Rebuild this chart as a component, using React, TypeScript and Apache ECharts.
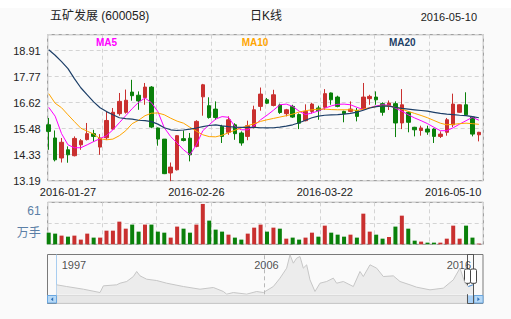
import React, { useEffect, useRef } from 'react';
import * as echarts from 'echarts';

// ---------- data ----------
const stockTitle = '五矿发展 (600058)';
const periodTitle = '日K线';
const currentDate = '2016-05-10';

// y tick labels of the price panel (bottom to top)
const priceTicks = ['13.19', '14.33', '15.48', '16.62', '17.77', '18.91'];
const priceMin = 13.19;
const priceStep = 1.144;

// x tick labels (candle index -> text)
const dateTickIndex = [3, 23, 43, 63];
const dateTickText = ['2016-01-27', '2016-02-26', '2016-03-22', '2016-05-10'];

// candles: [open, close, low, high]
const candles: number[][] = [
  [15.65, 15.36, 14.55, 15.95], [15.07, 14.11, 14.04, 15.40], [14.19, 14.88, 13.99, 15.07], [14.55, 14.33, 13.98, 14.70],
  [14.29, 15.05, 14.26, 15.14], [14.77, 14.95, 14.55, 15.02], [15.00, 15.26, 14.96, 15.73], [15.26, 15.14, 14.90, 15.43],
  [14.67, 15.07, 14.33, 15.24], [15.08, 15.84, 14.99, 16.24], [15.46, 16.20, 15.43, 16.39], [16.14, 16.68, 16.05, 17.05],
  [16.20, 16.73, 16.14, 17.20], [17.09, 16.93, 16.71, 17.63], [16.95, 16.70, 16.31, 17.12], [16.85, 17.31, 16.53, 17.49],
  [17.31, 15.55, 15.50, 17.35], [15.51, 15.02, 14.73, 15.53], [15.02, 13.50, 13.48, 15.02], [13.53, 13.79, 13.17, 13.99],
  [13.67, 15.17, 13.64, 15.20], [15.04, 14.96, 14.92, 15.40], [15.06, 14.33, 14.04, 15.29], [14.70, 15.80, 14.66, 15.85],
  [16.88, 17.41, 16.05, 17.45], [16.49, 15.97, 15.92, 16.86], [16.34, 15.97, 15.87, 16.68], [15.58, 15.14, 14.85, 15.65],
  [15.32, 15.87, 15.21, 16.02], [15.65, 15.26, 14.99, 15.72], [15.29, 14.85, 14.73, 15.36], [15.14, 15.61, 14.97, 15.83],
  [15.54, 16.31, 15.49, 16.49], [16.46, 17.00, 16.27, 17.29], [16.75, 16.60, 16.56, 16.83], [16.50, 16.97, 16.46, 17.19],
  [16.52, 16.19, 16.13, 16.58], [16.14, 16.31, 16.02, 16.35], [16.46, 15.99, 15.95, 16.53], [16.10, 15.72, 15.46, 16.15],
  [15.83, 16.24, 15.80, 16.55], [16.24, 16.56, 16.14, 16.62], [16.39, 16.27, 15.87, 16.49], [16.42, 17.02, 16.31, 17.22],
  [17.05, 16.75, 16.53, 17.07], [16.87, 16.46, 16.42, 16.93], [16.24, 16.14, 15.76, 16.27], [16.24, 16.34, 16.20, 16.68],
  [16.28, 16.02, 15.80, 16.39], [16.34, 16.87, 16.31, 17.49], [16.80, 16.90, 16.53, 16.97], [16.87, 16.75, 16.53, 17.12],
  [16.58, 16.20, 16.05, 16.64], [16.46, 16.61, 16.30, 16.72], [16.58, 15.73, 15.11, 16.68], [15.73, 16.53, 15.46, 17.22],
  [16.20, 15.76, 15.32, 16.24], [15.54, 15.43, 15.14, 15.56], [15.40, 15.51, 15.17, 15.61], [15.46, 15.33, 15.21, 15.61],
  [15.46, 15.14, 14.85, 15.50], [15.14, 15.24, 15.07, 15.36], [15.32, 15.87, 15.17, 15.95], [15.65, 16.56, 15.55, 17.02],
  [16.20, 16.53, 16.18, 16.55], [16.53, 16.09, 16.05, 17.08], [15.99, 15.24, 15.14, 16.02], [15.21, 15.32, 14.92, 15.34],
];

// volume (万手)
const volumes = [
  16.9, 15.5, 12.6, 11.1, 12.6, 6.8, 15.5, 9.7, 9.7, 19.8,
  19.8, 32.9, 22.7, 28.6, 18.4, 28.6, 28.6, 18.4, 16.9, 9.7,
  25.7, 22.7, 16.9, 28.6, 58.6, 34.4, 21.3, 18.4, 14.0, 9.7,
  6.8, 15.5, 24.2, 28.6, 18.4, 24.2, 22.7, 8.2, 9.7, 6.8,
  9.7, 16.9, 11.1, 27.1, 16.9, 14.0, 11.1, 14.0, 9.7, 44.5,
  18.4, 14.0, 8.2, 10.6, 25.7, 41.6, 22.7, 5.3, 3.9, 2.4,
  2.4, 2.4, 8.2, 27.1, 8.2, 27.1, 9.7, 1.0,
];
const volumeMax = 61;
const volumeTopLabel = '61';
const volumeUnit = '万手';

const ma5 = [
  16.42, 16.03, 15.26, 14.77, 14.64, 14.64, 14.77, 14.91, 15.04, 15.17, 15.43, 15.74, 16.05, 16.36,
  16.64, 16.83, 16.62, 16.23, 15.52, 15.13, 14.85, 14.55, 14.33, 14.77, 15.39, 15.65, 15.90,
  16.01, 15.98, 15.57, 15.43, 15.43, 15.61, 15.87, 16.07, 16.29, 16.53, 16.56, 16.46, 16.25, 16.10,
  16.17, 16.26, 16.38, 16.48, 16.55, 16.56, 16.53, 16.42, 16.32, 16.40, 16.48, 16.53,
  16.51, 16.38, 16.25, 16.09, 15.95, 15.83, 15.70, 15.54, 15.39, 15.39, 15.52, 15.68, 15.83, 15.98, 15.85,
];
const ma10 = [
  17.02, 16.60, 16.40, 16.09, 15.79, 15.50, 15.37, 15.24, 15.04, 14.99, 15.02, 15.17, 15.39, 15.70,
  15.85, 16.05, 16.16, 16.17, 16.09, 15.94, 15.81, 15.72, 15.54, 15.37, 15.21, 15.13, 15.12,
  15.19, 15.30, 15.41, 15.51, 15.61, 15.70, 15.80, 15.87, 15.93, 15.99, 16.05, 16.12, 16.21, 16.27,
  16.31, 16.34, 16.34, 16.32, 16.31, 16.31, 16.31, 16.28, 16.34, 16.40, 16.45, 16.49,
  16.48, 16.42, 16.34, 16.24, 16.15, 16.06, 15.96, 15.84, 15.72, 15.65, 15.67, 15.70, 15.72, 15.70, 15.67,
];
const ma20 = [
  18.95, 18.71, 18.43, 18.12, 17.68, 17.28, 16.97, 16.66, 16.40, 16.23, 16.09, 15.96, 15.92, 15.90,
  15.85, 15.83, 15.79, 15.68, 15.52, 15.43, 15.40, 15.42, 15.46, 15.51, 15.57, 15.62, 15.65,
  15.60, 15.57, 15.55, 15.54, 15.54, 15.54, 15.52, 15.51, 15.52, 15.55, 15.59, 15.65, 15.74, 15.85,
  15.96, 16.03, 16.07, 16.09, 16.10, 16.12, 16.15, 16.21, 16.29, 16.39, 16.45, 16.48,
  16.47, 16.42, 16.37, 16.34, 16.31, 16.28, 16.25, 16.20, 16.15, 16.12, 16.10, 16.07, 16.05, 16.01, 15.96,
];

// long-history navigator: position (% of history) and price
const navPct = [
  0, 2.4, 6.4, 10.4, 11.2, 14.4, 15.2, 16.8, 18.4, 19.2, 20.0, 21.6, 24.0, 26.4, 30.4, 34.4, 37.6, 40.0, 40.8,
  42.4, 45.6, 48.0, 49.6, 52.0, 53.6, 55.2, 56.0, 56.8, 57.6, 58.4, 59.2, 60.0, 60.8, 62.0, 63.2, 64.8, 66.4,
  67.2, 68.8, 71.2, 72.8, 73.6, 75.2, 76.8, 78.4, 80.8, 82.4, 84.8, 86.4, 89.6, 92.8, 95.2, 96.8, 98.0, 98.8, 99.9,
];
const navPrice = [
  15.8, 13.5, 9.9, 5.4, 14.4, 15.8, 18.0, 20.3, 27.0, 33.8, 27.9, 23.4, 21.6, 18.0, 13.5, 9.9, 12.2, 6.8, 3.2,
  5.4, 3.2, 6.8, 5.4, 13.5, 24.8, 38.3, 56.3, 45.0, 51.8, 54.0, 38.3, 42.8, 22.5, 6.8, 18.0, 20.3, 24.8,
  18.0, 20.3, 13.5, 33.8, 27.0, 42.8, 38.3, 27.0, 27.9, 20.3, 15.8, 12.6, 9.0, 11.3, 22.5, 38.3, 18.0, 13.5, 15.8,
];
const navYearPct = [1.2, 47.4, 93.6];
const navYearText = ['1997', '2006', '2016'];
const navDividerPct = 49.8;
const navSelectedFrom = 98.5;

// ---------- styles ----------
const FONT = '"Liberation Sans", Arial, "Noto Sans CJK SC", sans-serif';
const UP = '#c9302f';
const DOWN = '#0a800a';
const FRAME = '#8c8c8c';
const DASH = { show: true, lineStyle: { color: '#d4d4d4', type: [4, 3] as any, width: 1 } };

function buildOption() {
  const categories = candles.map((_, i) => String(i + 1));
  const rising = candles.map((c) => c[1] >= c[0]);
  const priceSpan = 146 / 26;

  const hidden = { show: false };
  const navSel = navPct
    .map((p, i) => [p, navPrice[i]])
    .filter((d) => d[0] >= navSelectedFrom);

  return {
    animation: false,
    backgroundColor: 'transparent',
    textStyle: { fontFamily: FONT },
    title: [
      { text: stockTitle, left: 50, top: 10, padding: 0, textStyle: { fontFamily: FONT, fontSize: 12, fontWeight: 'normal', color: '#222' } },
      { text: periodTitle, left: 250, top: 10, padding: 0, textStyle: { fontFamily: FONT, fontSize: 12, fontWeight: 'normal', color: '#222' } },
      { text: currentDate, right: 34, top: 11, padding: 0, textStyle: { fontFamily: FONT, fontSize: 11, fontWeight: 'normal', color: '#222' } },
    ],
    legend: [
      { data: ['MA5'], left: 91, top: 37, padding: 0, icon: 'none', itemWidth: 0, itemHeight: 0, selectedMode: false, textStyle: { color: '#ff00ff', fontWeight: 'bold', fontSize: 10, fontFamily: FONT } },
      { data: ['MA10'], left: 236.7, top: 37, padding: 0, icon: 'none', itemWidth: 0, itemHeight: 0, selectedMode: false, textStyle: { color: '#ffa500', fontWeight: 'bold', fontSize: 10, fontFamily: FONT } },
      { data: ['MA20'], left: 384, top: 37, padding: 0, icon: 'none', itemWidth: 0, itemHeight: 0, selectedMode: false, textStyle: { color: '#1d3f68', fontWeight: 'bold', fontSize: 10, fontFamily: FONT } },
    ],
    grid: [
      { left: 47.7, top: 34.7, width: 435.6, height: 146, show: true, borderColor: FRAME, borderWidth: 1, backgroundColor: 'transparent' },
      { left: 45.5, top: 34.7, width: 436.6, height: 146 },
      { left: 47.7, top: 202.3, width: 435.6, height: 42, show: true, borderColor: FRAME, borderWidth: 1, backgroundColor: 'transparent' },
      { left: 45.5, top: 202.3, width: 436.6, height: 42 },
      { left: 56.7, top: 254.3, width: 416.6, height: 40 },
    ],
    xAxis: [
      { gridIndex: 0, type: 'value', min: 0, max: 8, interval: 1, axisLine: hidden, axisTick: hidden, axisLabel: hidden, splitLine: DASH },
      {
        gridIndex: 1, type: 'category', data: categories, boundaryGap: true,
        axisLine: hidden, axisTick: hidden, splitLine: hidden,
        axisLabel: {
          show: true,
          interval: (i: number) => dateTickIndex.indexOf(i) >= 0,
          formatter: (_v: string, i: number) => {
            const k = dateTickIndex.indexOf(i);
            return k >= 0 ? dateTickText[k] : '';
          },
          color: '#222', fontSize: 11, margin: 6, fontFamily: FONT,
        },
      },
      { gridIndex: 2, type: 'value', min: 0, max: 8, interval: 1, axisLine: hidden, axisTick: hidden, axisLabel: hidden, splitLine: DASH },
      { gridIndex: 3, type: 'category', data: categories, boundaryGap: true, show: false },
      { gridIndex: 4, type: 'value', min: 0, max: 100, show: false },
    ],
    yAxis: [
      {
        gridIndex: 0, type: 'value', min: 0, max: priceSpan, interval: 1,
        axisLine: hidden, axisTick: hidden, splitLine: DASH,
        axisLabel: {
          formatter: (v: number) => (Math.abs(v - Math.round(v)) < 1e-6 && priceTicks[Math.round(v)]) || '',
          color: '#222', fontSize: 11, margin: 7, fontFamily: FONT, showMaxLabel: false,
        },
      },
      { gridIndex: 1, type: 'value', min: priceMin, max: priceMin + priceStep * priceSpan, show: false },
      {
        gridIndex: 2, type: 'value', min: 0, max: volumeMax, interval: volumeMax / 2,
        axisLine: hidden, axisTick: hidden, splitLine: DASH,
        axisLabel: {
          formatter: (v: number) => (v === volumeMax ? '{t|' + volumeTopLabel + '}' : v === 0 ? '{u|' + volumeUnit + '}' : ''),
          color: '#5b7fa6', fontSize: 12, margin: 7, fontFamily: FONT,
          rich: {
            t: { color: '#5b7fa6', fontSize: 12, fontFamily: FONT, padding: [17, 0, 0, 0] },
            u: { color: '#5b7fa6', fontSize: 12, fontFamily: FONT, padding: [0, 0, 22, 0] },
          },
        },
      },
      { gridIndex: 3, type: 'value', min: 0, max: volumeMax, show: false },
      { gridIndex: 4, type: 'value', min: 3, max: 57, show: false },
    ],
    series: [
      {
        type: 'candlestick', xAxisIndex: 1, yAxisIndex: 1, data: candles, barWidth: 4,
        itemStyle: { color: UP, color0: DOWN, borderColor: UP, borderColor0: DOWN, borderWidth: 1 },
      },
      { name: 'MA5', type: 'line', xAxisIndex: 1, yAxisIndex: 1, data: ma5, symbol: 'none', lineStyle: { color: '#ff00ff', width: 1 }, itemStyle: { color: '#ff00ff' } },
      { name: 'MA10', type: 'line', xAxisIndex: 1, yAxisIndex: 1, data: ma10, symbol: 'none', lineStyle: { color: '#ffa500', width: 1 }, itemStyle: { color: '#ffa500' } },
      { name: 'MA20', type: 'line', xAxisIndex: 1, yAxisIndex: 1, data: ma20, symbol: 'none', lineStyle: { color: '#1d3f68', width: 1.2 }, itemStyle: { color: '#1d3f68' } },
      {
        type: 'bar', xAxisIndex: 3, yAxisIndex: 3, barWidth: 4,
        data: volumes.map((v, i) => ({ value: v, itemStyle: { color: rising[i] ? UP : DOWN } })),
      },
      {
        type: 'line', xAxisIndex: 4, yAxisIndex: 4, symbol: 'none', silent: true,
        data: navPct.map((p, i) => [p, navPrice[i]]),
        lineStyle: { color: '#c6c6c6', width: 1 },
        areaStyle: { color: '#ececec', opacity: 1 },
        markLine: {
          silent: true, symbol: ['none', 'none'], label: { show: false },
          lineStyle: { color: '#b8b8b8', type: [4, 3], width: 1 },
          data: [{ xAxis: navDividerPct }],
        },
      },
      {
        type: 'line', xAxisIndex: 4, yAxisIndex: 4, symbol: 'none', silent: true,
        data: navSel, lineStyle: { color: '#4a90d9', width: 1 },
      },
      {
        type: 'scatter', xAxisIndex: 4, yAxisIndex: 4, symbolSize: 0, silent: true,
        data: navYearPct.map((p, i) => ({ value: [p, 42.8], name: navYearText[i] })),
        label: {
          show: true, position: [0, 0], align: 'left', verticalAlign: 'middle',
          formatter: (p: any) => p.name, color: '#222', fontSize: 11, fontFamily: FONT,
        },
      },
    ],
    graphic: [
      { type: 'rect', z: -10, shape: { x: 0, y: 0, width: 511, height: 8 }, style: { fill: '#ffffff' } },
      // navigator chrome
      { type: 'rect', shape: { x: 47.5, y: 254.5, width: 435.5, height: 49 }, style: { fill: 'none', stroke: '#7a7a7a', lineWidth: 1 } },
      { type: 'line', shape: { x1: 56.5, y1: 254.5, x2: 56.5, y2: 295 }, style: { stroke: '#a8cdf0', lineWidth: 1 } },
      { type: 'rect', shape: { x: 56.7, y: 295.3, width: 410.6, height: 8 }, style: { fill: '#e7e7e7', stroke: '#d6d6d6', lineWidth: 1 } },
      { type: 'rect', shape: { x: 467.3, y: 295.3, width: 6, height: 8 }, style: { fill: '#a9d0f5' } },
      { type: 'rect', shape: { x: 47.5, y: 295.5, width: 9, height: 7.5 }, style: { fill: '#b7d9f6', stroke: '#6aa7e0', lineWidth: 1 } },
      { type: 'polygon', shape: { points: [[53.2, 297.3], [53.2, 301.3], [50.8, 299.3]] }, style: { fill: '#2d6fb8' } },
      { type: 'rect', shape: { x: 474, y: 295.5, width: 9, height: 7.5 }, style: { fill: '#b7d9f6', stroke: '#6aa7e0', lineWidth: 1 } },
      { type: 'polygon', shape: { points: [[477.4, 297.3], [477.4, 301.3], [479.8, 299.3]] }, style: { fill: '#2d6fb8' } },
      { type: 'line', shape: { x1: 473.5, y1: 254.5, x2: 473.5, y2: 303.5 }, style: { stroke: '#555', lineWidth: 1 } },
      { type: 'rect', shape: { x: 467.5, y: 254.5, width: 6, height: 49 }, style: { fill: 'none', stroke: '#555', lineWidth: 1 } },
      { type: 'rect', shape: { x: 464.5, y: 269, width: 6, height: 14.3, r: 1.5 }, style: { fill: '#ffffff', stroke: '#444', lineWidth: 1 } },
      { type: 'rect', shape: { x: 470.5, y: 269, width: 6, height: 14.3, r: 1.5 }, style: { fill: '#ffffff', stroke: '#444', lineWidth: 1 } },
    ],
  };
}

export default function App() {
  const ref = useRef<HTMLDivElement>(null);
  useEffect(() => {
    if (!ref.current) return;
    const chart = echarts.init(ref.current, undefined, { renderer: 'svg' });
    chart.setOption(buildOption() as any);
    return () => chart.dispose();
  }, []);
  return (
    <div
      ref={ref}
      style={{ position: 'absolute', left: 0, top: 0, width: 511, height: 319, background: '#fafafa' }}
    />
  );
}
